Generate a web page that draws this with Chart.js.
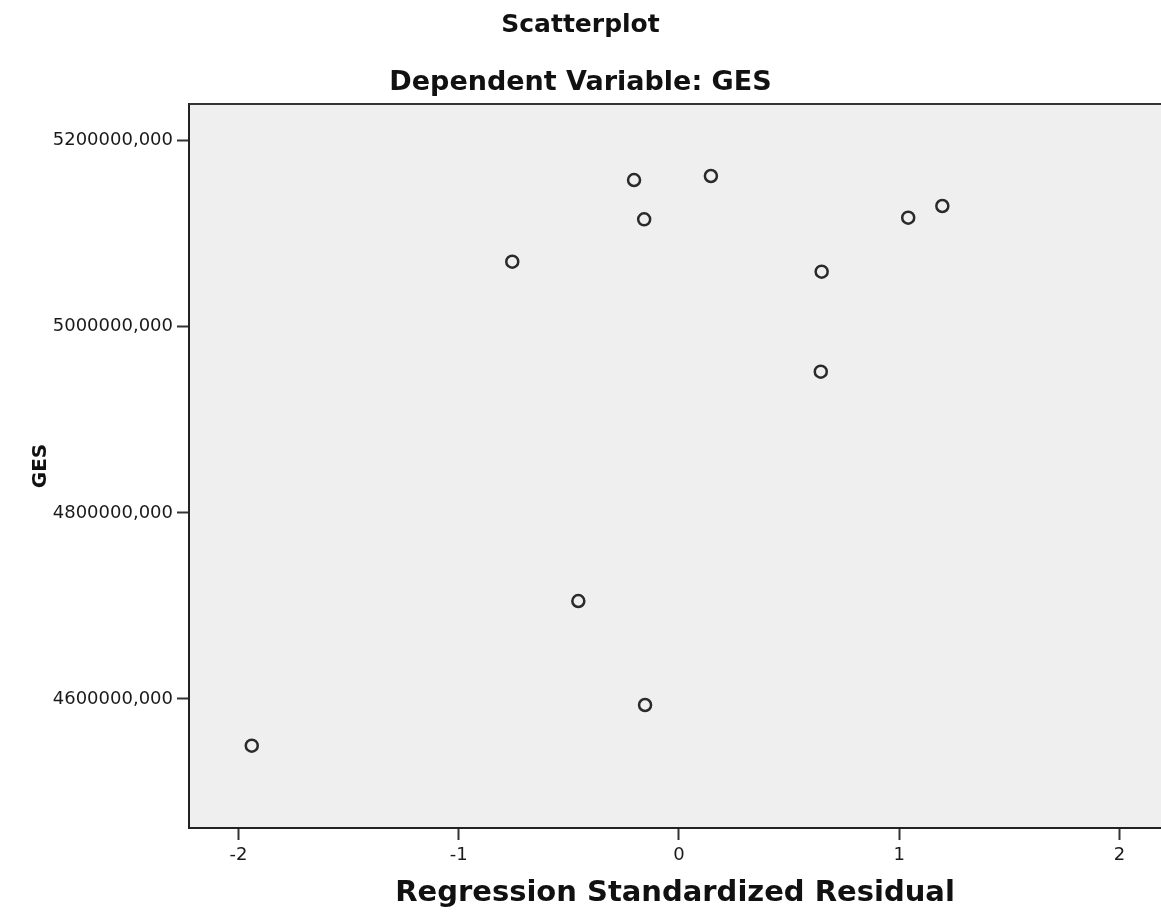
<!DOCTYPE html>
<html>
<head>
<meta charset="utf-8">
<title>Scatterplot</title>
<script src="https://cdn.jsdelivr.net/npm/chart.js@4/dist/chart.umd.min.js"></script>
<style>
    html, body { margin: 0; padding: 0; background: #fff; overflow: hidden; }
    canvas { display: block; }
</style>
</head>
<body>
<canvas id="scatter" width="1161" height="921"></canvas>
<script>
// residual (x) vs. GES (y)
const residuals = [-1.940, -0.757, -0.457, -0.204, -0.158, -0.154, 0.145, 0.644, 0.648, 1.041, 1.196];
const gesValues = [4549800, 5070000, 4705300, 5157760, 5115530, 4593540, 5162060, 4951740, 5059210, 5117250, 5129820];

const xTicks = [-2, -1, 0, 1, 2];
const yTicks = [4600000, 4800000, 5000000, 5200000];

const points = residuals.map(function (x, i) {
    return { x: x, y: gesValues[i] };
});

// grey plot background plus the frame line along the top
const plotFrame = {
    id: 'plotFrame',
    beforeDraw: function (chart) {
        const a = chart.chartArea;
        const ctx = chart.ctx;
        ctx.save();
        ctx.fillStyle = '#efefef';
        ctx.fillRect(a.left, a.top, a.right - a.left, a.bottom - a.top);
        ctx.restore();
    },
    afterDraw: function (chart) {
        const a = chart.chartArea;
        const ctx = chart.ctx;
        ctx.save();
        ctx.strokeStyle = '#333';
        ctx.lineWidth = 2;
        ctx.beginPath();
        ctx.moveTo(a.left, a.top);
        ctx.lineTo(a.right, a.top);
        ctx.stroke();
        ctx.restore();
    }
};

const ctx = document.getElementById('scatter').getContext('2d');

new Chart(ctx, {
    type: 'scatter',
    data: {
        datasets: [{
            data: points,
            pointStyle: 'circle',
            pointRadius: 6,
            pointBorderWidth: 2.5,
            borderColor: '#2a2a2a',
            backgroundColor: 'rgba(0,0,0,0)'
        }]
    },
    options: {
        responsive: false,
        animation: false,
        layout: { padding: 0, autoPadding: false },
        plugins: {
            legend: { display: false },
            tooltip: { enabled: false },
            title: {
                display: true,
                text: 'Scatterplot',
                color: '#111',
                font: { family: 'DejaVu Sans', size: 25, weight: 'bold', lineHeight: 1.2 },
                padding: { top: 10, bottom: 26.8 }
            },
            subtitle: {
                display: true,
                text: 'Dependent Variable: GES',
                color: '#111',
                font: { family: 'DejaVu Sans', size: 27, weight: 'bold', lineHeight: 1.2 },
                padding: { top: 0, bottom: 4.8 }
            }
        },
        scales: {
            x: {
                type: 'linear',
                min: -2.225,
                max: 2.189,
                afterBuildTicks: function (axis) {
                    axis.ticks = xTicks.map(function (v) { return { value: v }; });
                },
                afterFit: function (axis) {
                    axis.height = 93;
                },
                border: { display: true, color: '#222', width: 2 },
                grid: {
                    drawOnChartArea: false,
                    drawTicks: true,
                    tickLength: 12,
                    tickWidth: 2,
                    tickColor: '#333'
                },
                ticks: {
                    color: '#1a1a1a',
                    padding: 4.2,
                    maxRotation: 0,
                    font: { family: 'DejaVu Sans', size: 18, lineHeight: 1.2 }
                },
                title: {
                    display: true,
                    text: 'Regression Standardized Residual',
                    color: '#111',
                    font: { family: 'DejaVu Sans', size: 29, weight: 'bold', lineHeight: 1.2 },
                    padding: { top: 6, bottom: 10.6 }
                }
            },
            y: {
                type: 'linear',
                min: 4461350,
                max: 5239440,
                afterBuildTicks: function (axis) {
                    axis.ticks = yTicks.map(function (v) { return { value: v }; });
                },
                afterFit: function (axis) {
                    axis.width = 189;
                },
                border: { display: true, color: '#222', width: 2 },
                grid: {
                    drawOnChartArea: false,
                    drawTicks: true,
                    tickLength: 12,
                    tickWidth: 2,
                    tickColor: '#333'
                },
                ticks: {
                    color: '#1a1a1a',
                    padding: 4,
                    font: { family: 'DejaVu Sans', size: 18, lineHeight: 1.2 },
                    callback: function (value) {
                        return value.toFixed(3).replace('.', ',');
                    }
                },
                title: {
                    display: true,
                    text: 'GES',
                    color: '#111',
                    font: { family: 'DejaVu Sans', size: 20, weight: 'bold', lineHeight: 1.2 },
                    padding: { top: 29, bottom: 0 }
                }
            }
        }
    },
    plugins: [plotFrame]
});
</script>
</body>
</html>
